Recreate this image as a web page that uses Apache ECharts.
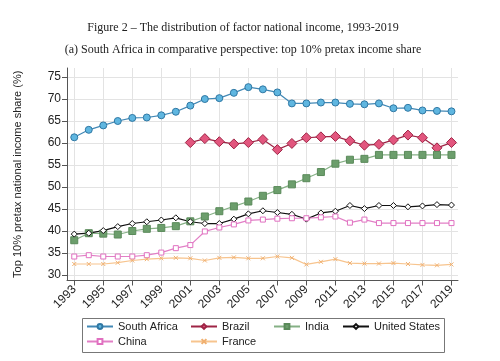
<!DOCTYPE html>
<html>
<head>
<meta charset="utf-8">
<script src="https://cdn.jsdelivr.net/npm/echarts@6/dist/echarts.min.js"></script>
<style>html,body{margin:0;padding:0;background:#fff}#c{width:500px;height:361px}</style>
</head>
<body>
<div id="c"></div>
<script>
const years = [1993,1994,1995,1996,1997,1998,1999,2000,2001,2002,2003,2004,2005,2006,2007,2008,2009,2010,2011,2012,2013,2014,2015,2016,2017,2018,2019];
const southAfrica = [61.3,63.0,64.0,65.0,65.7,65.8,66.3,67.1,68.5,70.0,70.2,71.4,72.7,72.2,71.5,69.0,69.0,69.2,69.2,68.9,68.8,69.0,67.9,68.0,67.4,67.3,67.2];
const brazil = [null,null,null,null,null,null,null,null,60.1,61.0,60.3,59.8,60.1,60.8,58.5,59.9,61.2,61.4,61.5,60.5,59.5,59.7,60.7,61.8,61.2,58.9,60.1];
const india = [37.9,39.5,39.4,39.2,40.0,40.5,40.7,41.1,42.2,43.3,44.5,45.6,46.7,48.0,49.3,50.6,52.0,53.4,55.3,56.2,56.4,57.3,57.3,57.3,57.3,57.3,57.3];
const unitedStates = [39.3,39.5,40.1,41.0,41.7,42.1,42.5,43.0,42.1,41.7,41.7,42.7,43.9,44.6,44.2,43.8,42.7,44.1,44.5,45.8,45.1,45.8,45.8,45.5,45.7,46.0,45.9];
const china = [34.2,34.5,34.2,34.2,34.2,34.5,35.1,36.1,36.8,39.9,40.8,41.5,42.4,42.6,42.8,42.9,42.9,43.1,43.3,41.9,42.6,41.8,41.8,41.8,41.8,41.8,41.8];
const france = [32.5,32.5,32.5,32.8,33.3,33.6,33.8,33.9,33.8,33.3,33.9,34.0,33.8,33.8,34.2,33.9,32.4,33.0,33.6,32.7,32.6,32.6,32.7,32.5,32.3,32.2,32.4];
const xTicks = [1993,1995,1997,1999,2001,2003,2005,2007,2009,2011,2013,2015,2017,2019];
const yTicks = [30,35,40,45,50,55,60,65,70,75];

const pair = arr => years.map((y,i) => [y, arr[i]]);
const chart = echarts.init(document.getElementById('c'));
const axisCol = '#555';
const gridCol = '#e3e3e3';
const legendText = {fontFamily:'Liberation Sans, Arial', fontSize:11, color:'#222'};
const legCommon = {orient:'vertical', top:321, itemWidth:26, itemHeight:6, itemGap:4, textStyle:legendText, padding:0};
chart.setOption({
  animation:false,
  title:[
    {text:'Figure 2 – The distribution of factor national income, 1993-2019', left:238, top:17, textAlign:'center',
     textStyle:{fontFamily:'Liberation Serif, serif', fontSize:12, fontWeight:'normal', color:'#222'}},
    {text:'(a) South Africa in comparative perspective: top 10% pretax income share', left:238, top:39, textAlign:'center',
     textStyle:{fontFamily:'Liberation Serif, serif', fontSize:12, fontWeight:'normal', color:'#222'}}
  ],
  grid:{left:67, right:42, top:68, bottom:80.5, containLabel:false},
  xAxis:{type:'value', min:1992.5, max:2019.45,
    axisLine:{show:true, onZero:false, lineStyle:{color:axisCol}},
    axisTick:{show:true, customValues:xTicks, length:5, lineStyle:{color:axisCol}},
    axisLabel:{customValues:xTicks, rotate:45, margin:7, fontFamily:'Liberation Sans, Arial', fontSize:12, color:'#222', formatter:v=>String(v)},
    splitLine:{show:true, lineStyle:{color:gridCol}}},
  yAxis:{type:'value', min:28.75, max:77.05,
    name:'Top 10% pretax national income share (%)', nameLocation:'middle', nameGap:44,
    nameTextStyle:{fontFamily:'Liberation Sans, Arial', fontSize:11, color:'#222'},
    axisLine:{show:true, lineStyle:{color:axisCol}},
    axisTick:{show:true, customValues:yTicks, length:5, lineStyle:{color:axisCol}},
    axisLabel:{customValues:yTicks, margin:6, fontFamily:'Liberation Sans, Arial', fontSize:12, color:'#222'},
    splitLine:{show:true, lineStyle:{color:gridCol}}},
  legend:[
    Object.assign({data:['South Africa','China'], left:86}, legCommon),
    Object.assign({data:['Brazil','France'], left:190}, legCommon),
    Object.assign({data:['India'], left:273}, legCommon),
    Object.assign({data:['United States'], left:342}, legCommon)
  ],
  graphic:[{type:'rect', shape:{x:82.5, y:318.5, width:362, height:34}, style:{fill:'none', stroke:'#777', lineWidth:1}, silent:true}],
  series:[
    {name:'South Africa', type:'line', data:pair(southAfrica), symbol:'circle', symbolSize:7,
     lineStyle:{color:'#4288b5', width:1.2}, itemStyle:{color:'#5fb6e0', borderColor:'#2f77a3', borderWidth:1}},
    {name:'Brazil', type:'line', data:pair(brazil), symbol:'diamond', symbolSize:10,
     lineStyle:{color:'#9e2445', width:1.2}, itemStyle:{color:'#e2567e', borderColor:'#9e2445', borderWidth:1}},
    {name:'India', type:'line', data:pair(india), symbol:'rect', symbolSize:7,
     lineStyle:{color:'#85b085', width:1.2}, itemStyle:{color:'#6c9e6c', borderColor:'#5a8a5a', borderWidth:1}},
    {name:'United States', type:'line', data:pair(unitedStates), symbol:'diamond', symbolSize:6,
     lineStyle:{color:'#111', width:1.2}, itemStyle:{color:'#fff', borderColor:'#111', borderWidth:1}},
    {name:'China', type:'line', data:pair(china), symbol:'rect', symbolSize:5,
     lineStyle:{color:'#e27fc6', width:1.2}, itemStyle:{color:'#fff', borderColor:'#e070c0', borderWidth:1}},
    {name:'France', type:'line', data:pair(france), symbol:'path://M0 0L10 10M10 0L0 10', symbolSize:4,
     lineStyle:{color:'#f7c48e', width:1.2}, itemStyle:{color:'none', borderColor:'#f0b070', borderWidth:1}}
  ]
});
</script>
</body>
</html>
